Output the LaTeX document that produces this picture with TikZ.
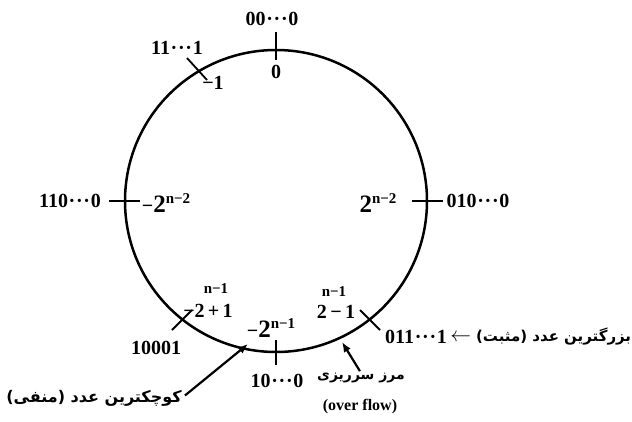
\documentclass[tikz,border=0pt]{standalone}
\usepackage{fontspec}
\setmainfont{Liberation Serif}
\newfontfamily\farsi[Script=Arabic]{DejaVu Sans}
\TeXXeTstate=1
\usetikzlibrary{arrows.meta, positioning}

\newcommand{\dts}{\kern0.7pt·\kern0.7pt·\kern0.7pt·\kern0.7pt}
\newcommand{\twopow}[1]{{\fontsize{25}{25}\selectfont 2}\raisebox{9pt}{\fontsize{15}{15}\selectfont #1}}

\begin{document}
\begin{tikzpicture}[
    x=1pt, y=-1pt,
    font=\fontsize{20}{22}\selectfont\bfseries,
    lbl/.style={inner sep=0pt},
    small/.style={inner sep=0pt, font=\fontsize{15}{17}\selectfont\bfseries},
    fa/.style={inner sep=0pt, font=\fontsize{16}{18}\selectfont\bfseries\farsi},
    ring/.style={line width=2.5pt},
    tick/.style={line width=1.8pt},
    arrow/.style={-{Latex[length=10pt, width=8pt]}, line width=2.2pt}
]
\useasboundingbox (0,0) rectangle (632,421);

\coordinate (o) at (276,201);
\draw[ring] (o) circle (151pt);

\draw[tick] (276,32) -- (276,60);
\draw[tick] (109,201) -- (140,201);
\draw[tick] (412,201) -- (443,201);
\draw[tick] (276,340) -- (276,365);
\draw[tick] (187,58) -- (207,80);
\draw[tick] (172,330) -- (192,310);
\draw[tick] (360,310) -- (380,330);

\node[lbl] (zerobin) at (272,19) {00\dts0};
\node[lbl] (zero) at (276,72) {0};
\node[lbl] (onesbin) at (177,48) {11\dts1};
\node[lbl] (minusone) at (213,83) {−1};
\node[lbl] (leftbin) at (70,201) {110\dts0};
\node[lbl] (leftval) at (166,203) {−\twopow{n−2}};
\node[lbl] (rightval) at (378,203) {\twopow{n−2}};
\node[lbl] (rightbin) at (478,201) {010\dts0};

\node[small] (negexp) at (216,289) {n−1};
\node[lbl] (negval) at (208,311) {−2\,+\,1};
\node[lbl] (negbin) at (156,348) {10001};
\node[lbl] (minval) at (271,328) {−\twopow{n−1}};
\node[lbl] (minbin) at (277,381) {10\dts0};

\node[small] (posexp) at (334,292) {n−1};
\node[lbl] (posval) at (336,312) {2\,−\,1};
\node[lbl, anchor=west] (maxbin) at (385,337) {011\dts1};
\node[lbl, right=3pt of maxbin] (maxlbl) {$\leftarrow$ {\fontsize{15}{18}\selectfont\farsi\beginR بزرگترین عدد (مثبت)\endR}};

\node[fa] (minlbl) at (94,398) {\beginR کوچکترین عدد (منفی)\endR};
\coordinate (minpt) at (248,344);
\draw[arrow, shorten <=4pt] (minlbl.east) -- (minpt);

\node[fa, font=\fontsize{14}{16}\selectfont\bfseries\farsi] (ovflbl) at (361,378) {\beginR مرز سرریزی\endR};
\node[lbl, font=\fontsize{16}{18}\selectfont\bfseries] (ovfen) at (360,407) {(over flow)};
\coordinate (ovfpt) at (342,342);
\draw[arrow, shorten <=2pt] (ovflbl.north) -- (ovfpt);

\end{tikzpicture}
\end{document}
